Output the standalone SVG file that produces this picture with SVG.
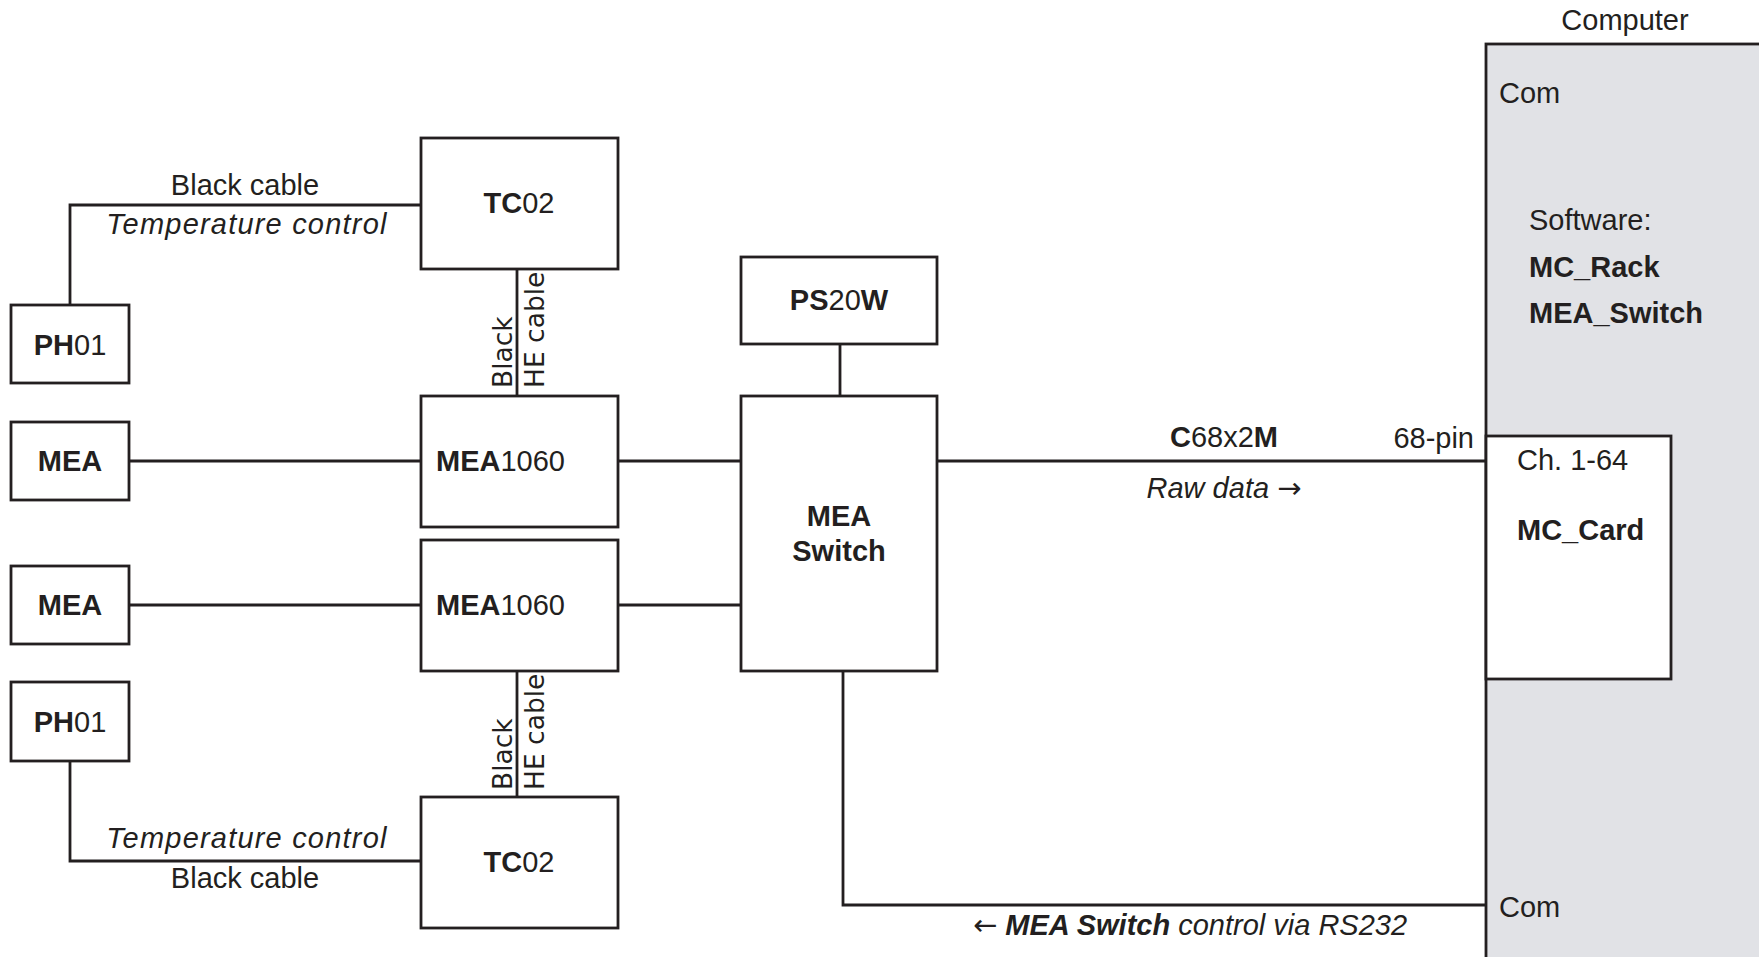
<svg xmlns="http://www.w3.org/2000/svg" width="1759" height="957" viewBox="0 0 1759 957">
<style>
.box{fill:#fff;stroke:#231f20;stroke-width:2.8}
.ln{fill:none;stroke:#231f20;stroke-width:2.8}
text{font-family:"Liberation Sans",Arial,sans-serif;font-size:29px;fill:#231f20}
.c{text-anchor:middle}
.b{font-weight:bold}
.i{font-style:italic}
.ls{letter-spacing:1.2px}
.ar{font-family:"DejaVu Sans",sans-serif;font-style:normal;font-weight:normal}
.rot{font-family:"DejaVu Sans",Verdana,sans-serif;font-size:26.5px}
</style>
<rect width="1759" height="957" fill="#fff"/>
<g id="computer">
<rect x="1486" y="44" width="300" height="950" fill="#e1e2e6" stroke="#231f20" stroke-width="2.8"/>
<text x="1625" y="30" class="c">Computer</text>
<text x="1499" y="103">Com</text>
<text x="1529" y="230">Software:</text>
<text x="1529" y="277" class="b">MC_Rack</text>
<text x="1529" y="323" class="b">MEA_Switch</text>
<text x="1499" y="917">Com</text>
</g>
<g id="mc_card">
<rect class="box" x="1486" y="436" width="185" height="243"/>
<text x="1517" y="470">Ch. 1-64</text>
<text x="1517" y="540" class="b">MC_Card</text>
</g>
<g id="connectors">
<path class="ln" d="M70 305V205H421"/>
<path class="ln" d="M70 761V861H421"/>
<path class="ln" d="M517 269V396"/>
<path class="ln" d="M517 671V797"/>
<path class="ln" d="M129 461H421"/>
<path class="ln" d="M129 605H421"/>
<path class="ln" d="M618 461H741"/>
<path class="ln" d="M618 605H741"/>
<path class="ln" d="M840 344V396"/>
<path class="ln" d="M937 461H1486"/>
<path class="ln" d="M843 671V905H1486"/>
</g>
<g id="labels">
<text x="245" y="195" class="c">Black cable</text>
<text x="247" y="234" class="c i ls">Temperature control</text>
<text x="247" y="848" class="c i ls">Temperature control</text>
<text x="245" y="888" class="c">Black cable</text>
<text class="rot" transform="translate(512,388) rotate(-90)">Black</text>
<text class="rot" transform="translate(544,388) rotate(-90)">HE cable</text>
<text class="rot" transform="translate(512,790) rotate(-90)">Black</text>
<text class="rot" transform="translate(544,790) rotate(-90)">HE cable</text>
<text x="1224" y="447" class="c"><tspan class="b">C</tspan>68x2<tspan class="b">M</tspan></text>
<text x="1474" y="448" text-anchor="end">68-pin</text>
<text x="1224" y="498" class="c i">Raw data <tspan class="ar">→</tspan></text>
<text x="1190" y="935" class="c i"><tspan class="ar">←</tspan> <tspan class="b">MEA Switch</tspan> control via RS232</text>
</g>
<g id="tc02_top">
<rect class="box" x="421" y="138" width="197" height="131"/>
<text x="519" y="213" class="c"><tspan class="b">TC</tspan>02</text>
</g>
<g id="ph01_top">
<rect class="box" x="11" y="305" width="118" height="78"/>
<text x="70" y="355" class="c"><tspan class="b">PH</tspan>01</text>
</g>
<g id="mea_top">
<rect class="box" x="11" y="422" width="118" height="78"/>
<text x="70" y="471" class="c b">MEA</text>
</g>
<g id="mea1060_top">
<rect class="box" x="421" y="396" width="197" height="131"/>
<text x="436" y="471"><tspan class="b">MEA</tspan>1060</text>
</g>
<g id="mea1060_bottom">
<rect class="box" x="421" y="540" width="197" height="131"/>
<text x="436" y="615"><tspan class="b">MEA</tspan>1060</text>
</g>
<g id="mea_bottom">
<rect class="box" x="11" y="566" width="118" height="78"/>
<text x="70" y="615" class="c b">MEA</text>
</g>
<g id="ph01_bottom">
<rect class="box" x="11" y="682" width="118" height="79"/>
<text x="70" y="732" class="c"><tspan class="b">PH</tspan>01</text>
</g>
<g id="tc02_bottom">
<rect class="box" x="421" y="797" width="197" height="131"/>
<text x="519" y="872" class="c"><tspan class="b">TC</tspan>02</text>
</g>
<g id="ps20w">
<rect class="box" x="741" y="257" width="196" height="87"/>
<text x="839" y="310" class="c"><tspan class="b">PS</tspan>20<tspan class="b">W</tspan></text>
</g>
<g id="mea_switch">
<rect class="box" x="741" y="396" width="196" height="275"/>
<text x="839" y="526" class="c b">MEA</text>
<text x="839" y="561" class="c b">Switch</text>
</g>
</svg>
